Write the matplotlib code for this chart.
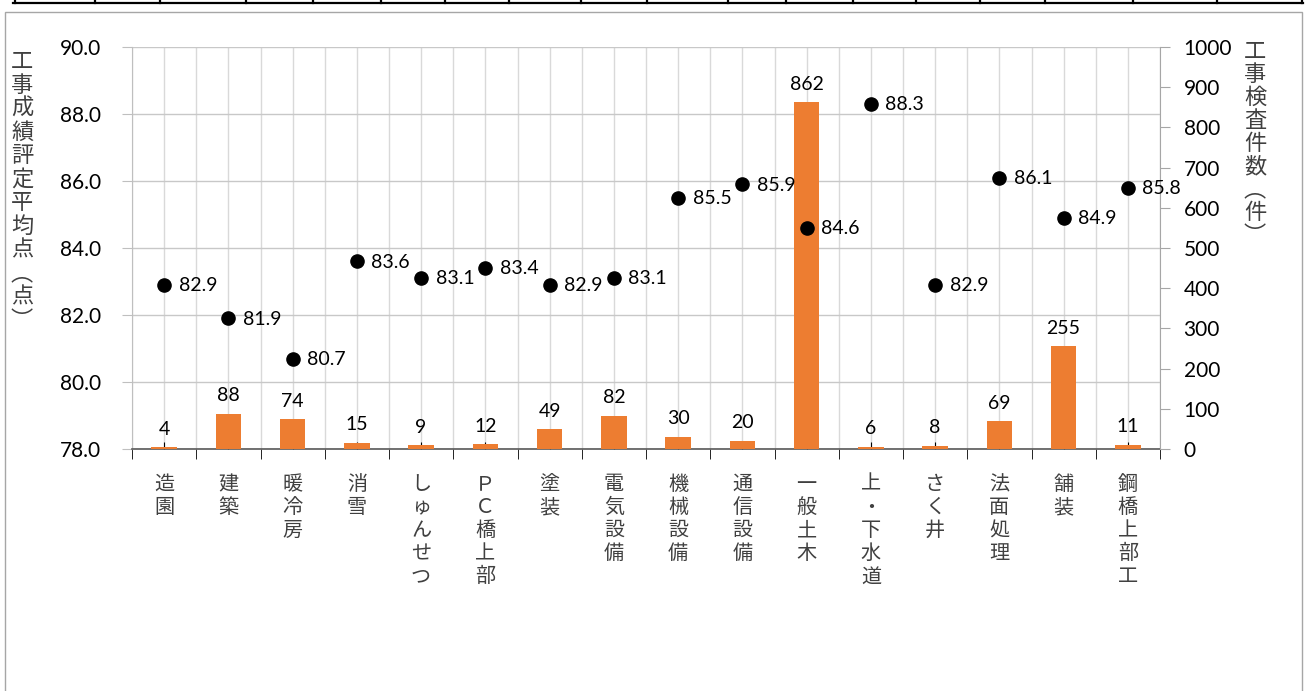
import matplotlib
matplotlib.use("Agg")
import matplotlib.pyplot as plt
from matplotlib.lines import Line2D
from matplotlib.patches import Rectangle
import numpy as np

plt.rcParams['font.family'] = ['Noto Sans CJK JP', 'DejaVu Sans']
NUMFONT = ['Lato', 'DejaVu Sans']

categories = ["造園", "建築", "暖冷房", "消雪", "しゅんせつ", "ＰＣ橋上部", "塗装", "電気設備",
              "機械設備", "通信設備", "一般土木", "上・下水道", "さく井", "法面処理", "舗装", "鋼橋上部工"]
counts = [4, 88, 74, 15, 9, 12, 49, 82, 30, 20, 862, 6, 8, 69, 255, 11]
scores = [82.9, 81.9, 80.7, 83.6, 83.1, 83.4, 82.9, 83.1, 85.5, 85.9, 84.6, 88.3, 82.9, 86.1, 84.9, 85.8]
score_ticks = [78.0, 80.0, 82.0, 84.0, 86.0, 88.0, 90.0]
count_ticks = list(range(0, 1001, 100))
left_title = "工事成績評定平均点︵点︶"
right_title = "工事検査件数︵件︶"

W, H = 1306, 691
fig = plt.figure(figsize=(W / 100, H / 100), dpi=100)

# outer frame and top table fragment
fig.add_artist(Rectangle((5 / W, -0.05), 1297 / W, 1 - 12 / H + 0.05, transform=fig.transFigure,
                         fill=False, edgecolor='#a6a6a6', linewidth=1.0))
fig.add_artist(Line2D([13 / W, 1303 / W], [1 - 3 / H, 1 - 3 / H], transform=fig.transFigure,
                      color='black', linewidth=1.6))
for px in [15, 95, 160, 246, 313, 381, 445, 509, 581, 647, 728, 786, 853, 916, 980, 1045, 1133, 1217, 1302]:
    fig.add_artist(Line2D([px / W, px / W], [1.0, 1 - 3 / H], transform=fig.transFigure,
                          color='black', linewidth=1.6))

rect = [132 / W, 1 - 449 / H, (1160 - 132) / W, (449 - 47) / H]
x = np.arange(len(categories))

# base axes: score scale + gridlines
ax = fig.add_axes(rect)
ax.set_xlim(-0.5, len(categories) - 0.5)
ax.set_ylim(78, 90)
ax.set_yticks(score_ticks)
ax.set_yticklabels([f"{t:.1f}" for t in score_ticks], fontsize=15, color='black', family=NUMFONT)
ax.tick_params(axis='y', direction='out', length=7, color='#bfbfbf', pad=15)
ax.grid(axis='y', color='#c8c8c8', linewidth=1.0)
ax.set_xticks(x)
ax.set_xticks(np.arange(-0.5, len(categories), 1.0), minor=True)
ax.grid(axis='x', which='both', color='#d9d9d9', linewidth=1.0)
ax.set_xticklabels(["\n".join(c) for c in categories], fontsize=14.5, color='#404040', linespacing=1.13,
                   va='top')
ax.tick_params(axis='x', which='major', direction='in', length=5, color='black', pad=18)
ax.tick_params(axis='x', which='minor', direction='out', length=7, color='black')
ax.set_axisbelow(True)
for s in ['top', 'right']:
    ax.spines[s].set_visible(False)
ax.spines['left'].set_color('#bfbfbf')
ax.spines['bottom'].set_color('#595959')
ax.spines['bottom'].set_linewidth(1.2)
ax.spines['bottom'].set_zorder(5)

# bars on right count axis
axb = ax.twinx()
axb.set_ylim(0, 1000)
axb.set_yticks(count_ticks)
axb.set_yticklabels([str(t) for t in count_ticks], fontsize=15, color='black', family=NUMFONT)
axb.tick_params(axis='y', direction='out', length=7, color='#a6a6a6', pad=10)
for s in ['top', 'left', 'bottom']:
    axb.spines[s].set_visible(False)
axb.spines['right'].set_color('#a6a6a6')
axb.bar(x, counts, width=0.4, color='#ED7D31', zorder=2)
for xi, v in zip(x, counts):
    axb.annotate(str(v), (xi, v), xytext=(0, 13), textcoords='offset points', ha='center', va='center',
                 fontsize=14, color='black', family=NUMFONT)

# dots on score axis (on top)
axd = ax.twinx()
axd.set_ylim(78, 90)
axd.axis('off')
axd.scatter(x, scores, s=90, color='black', zorder=5, clip_on=False)
for xi, v in zip(x, scores):
    axd.annotate(f"{v:.1f}", (xi, v), xytext=(10.5, -0.5), textcoords='offset points', ha='left', va='center',
                 fontsize=14, color='black', family=NUMFONT, annotation_clip=False)

fig.text(22 / W, 1 - 50 / H, "\n".join(left_title), ha='center', va='top', fontsize=16,
         color='#404040', linespacing=1.03)
fig.text(1255 / W, 1 - 40 / H, "\n".join(right_title), ha='center', va='top', fontsize=16,
         color='#404040', linespacing=1.0)

fig.savefig("out.png", dpi=100)
